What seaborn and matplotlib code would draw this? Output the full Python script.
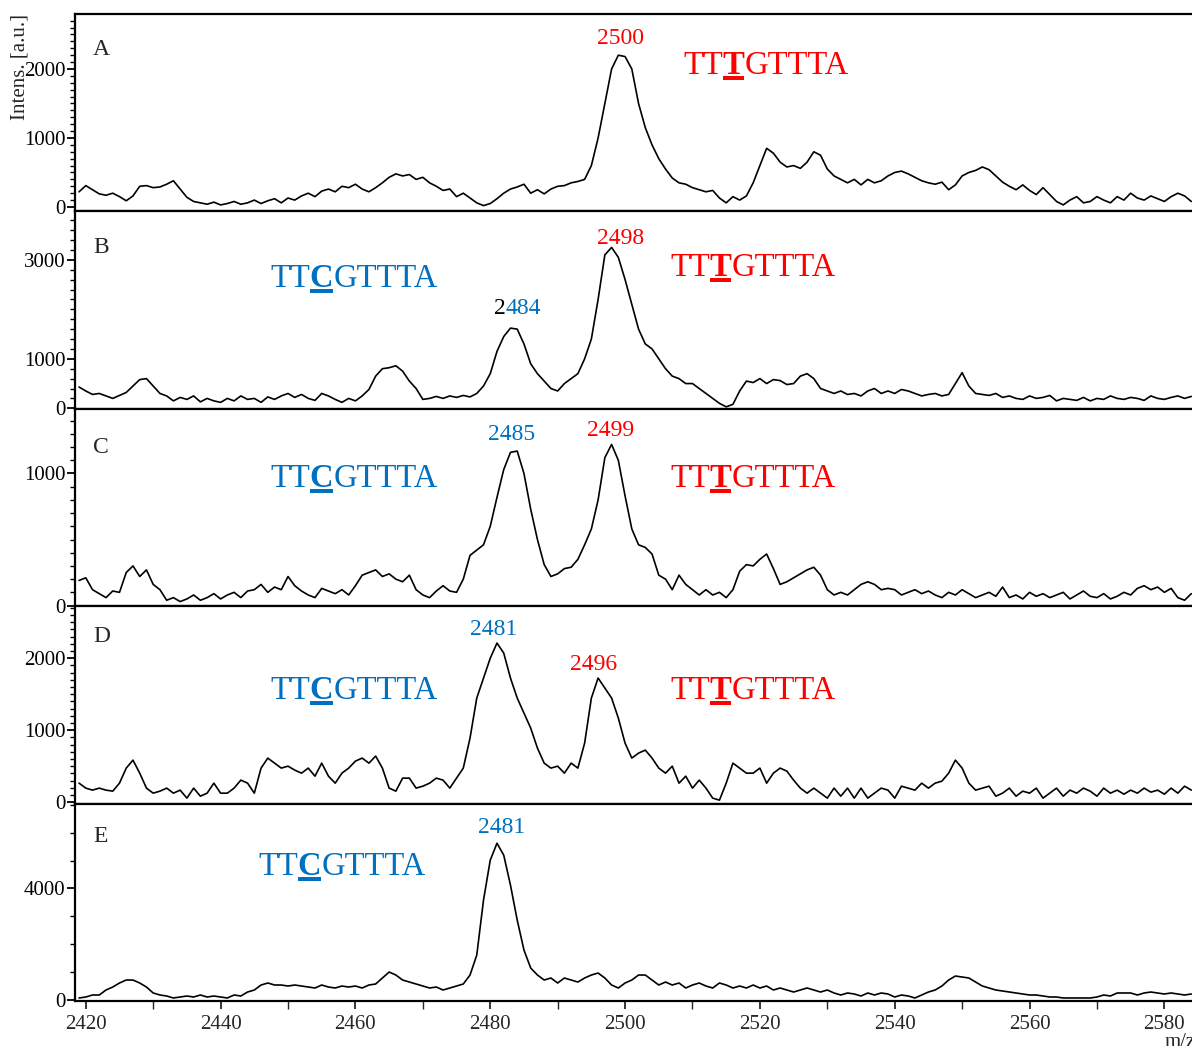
import numpy as np
import pandas as pd
import matplotlib
matplotlib.use("Agg")
import matplotlib.pyplot as plt
import seaborn as sns
from matplotlib.ticker import MultipleLocator, FixedLocator
from matplotlib.patches import Rectangle
from matplotlib.text import Annotation

# ---------------- data ----------------
mz = np.arange(2419, 2585)

int_A = [220, 310, 250, 190, 170, 200, 150, 90, 160, 300, 310, 280, 290, 330, 380, 260, 140, 80, 60, 40,
         70, 30, 50, 80, 40, 60, 100, 50, 90, 120, 60, 130, 100, 160, 200, 150, 230, 260, 220, 300,
         280, 330, 260, 220, 280, 350, 430, 480, 450, 470, 400, 430, 350, 300, 240, 260, 150, 200, 130, 60,
         20, 50, 120, 200, 260, 290, 330, 200, 250, 190, 260, 300, 310, 350, 370, 400, 600, 1000, 1500, 2000,
         2200, 2180, 2000, 1500, 1150, 900, 700, 550, 420, 350, 330, 280, 250, 220, 240, 130, 60, 150, 100, 160,
         350, 600, 850, 780, 650, 580, 600, 560, 650, 800, 750, 550, 450, 400, 350, 400, 320, 400, 350, 380,
         450, 500, 520, 480, 430, 380, 350, 330, 360, 250, 320, 450, 500, 530, 580, 540, 450, 360, 300, 250,
         320, 240, 180, 280, 180, 80, 30, 100, 150, 60, 80, 150, 100, 60, 150, 100, 200, 130, 100, 160,
         120, 80, 150, 200, 160, 80]

int_B = [430, 350, 280, 300, 250, 200, 260, 320, 450, 580, 600, 450, 300, 250, 150, 220, 180, 250, 130, 200,
         150, 120, 200, 150, 250, 180, 200, 120, 230, 180, 250, 300, 220, 280, 200, 160, 300, 250, 180, 120,
         200, 150, 250, 380, 650, 800, 820, 860, 750, 550, 400, 180, 200, 240, 200, 250, 220, 260, 230, 300,
         450, 700, 1150, 1450, 1620, 1600, 1300, 900, 700, 550, 400, 350, 500, 600, 700, 1000, 1400, 2200, 3100, 3250,
         3050, 2600, 2100, 1600, 1300, 1200, 1000, 800, 650, 600, 500, 500, 400, 300, 200, 100, 30, 80, 350, 550,
         520, 600, 500, 580, 560, 480, 500, 650, 700, 600, 400, 350, 300, 350, 280, 300, 250, 350, 400, 300,
         350, 300, 380, 350, 300, 250, 280, 300, 250, 280, 500, 720, 450, 300, 280, 260, 300, 220, 250, 200,
         180, 250, 200, 220, 260, 150, 200, 180, 160, 220, 150, 200, 180, 250, 200, 180, 220, 200, 160, 250,
         200, 180, 220, 250, 200, 240]

int_C = [190, 210, 120, 90, 60, 110, 100, 250, 300, 220, 270, 160, 120, 40, 60, 30, 50, 80, 40, 60,
         90, 50, 80, 100, 60, 110, 120, 160, 100, 140, 120, 220, 150, 110, 80, 60, 130, 110, 90, 120,
         80, 150, 230, 250, 270, 220, 240, 200, 180, 230, 120, 80, 60, 110, 150, 110, 100, 200, 380, 420,
         460, 600, 820, 1030, 1160, 1170, 1000, 730, 500, 310, 220, 240, 280, 290, 350, 460, 580, 800, 1120, 1220,
         1100, 830, 580, 460, 440, 390, 230, 200, 120, 230, 160, 120, 80, 120, 80, 100, 60, 120, 260, 310,
         300, 350, 390, 280, 160, 180, 210, 240, 270, 290, 230, 120, 80, 100, 80, 120, 160, 180, 160, 120,
         130, 120, 80, 100, 120, 90, 110, 80, 60, 100, 80, 120, 90, 60, 80, 100, 70, 140, 60, 80,
         50, 100, 70, 90, 60, 80, 100, 50, 80, 110, 70, 60, 90, 50, 70, 100, 80, 130, 150, 120,
         140, 100, 130, 60, 40, 90]

int_D = [264, 195, 167, 195, 167, 153, 264, 473, 584, 403, 195, 125, 153, 195, 125, 167, 56, 195, 83, 125,
         264, 125, 125, 195, 306, 264, 125, 473, 612, 542, 473, 500, 445, 403, 473, 361, 542, 361, 264, 403,
         473, 570, 612, 542, 640, 473, 195, 153, 334, 334, 195, 222, 264, 334, 306, 195, 334, 473, 890, 1446,
         1724, 2000, 2210, 2071, 1724, 1446, 1237, 1029, 751, 542, 473, 500, 403, 542, 473, 820, 1446, 1724, 1585, 1446,
         1168, 820, 612, 681, 723, 612, 473, 403, 500, 264, 361, 195, 306, 195, 56, 28, 264, 542, 473, 403,
         403, 473, 264, 403, 473, 431, 306, 195, 125, 195, 125, 56, 195, 83, 195, 56, 195, 56, 125, 195,
         167, 56, 222, 195, 167, 264, 195, 264, 292, 403, 584, 473, 264, 167, 195, 222, 83, 125, 195, 83,
         153, 125, 195, 56, 125, 195, 83, 167, 125, 195, 153, 83, 195, 125, 167, 111, 167, 125, 195, 139,
         167, 111, 195, 125, 222, 167]

int_E = [72, 107, 179, 179, 358, 465, 609, 716, 716, 609, 465, 251, 179, 143, 72, 107, 143, 107, 179, 107,
         143, 107, 72, 179, 143, 286, 358, 537, 609, 537, 537, 501, 537, 501, 465, 430, 537, 465, 430, 501,
         465, 501, 430, 537, 573, 788, 1002, 895, 716, 644, 573, 501, 430, 465, 358, 430, 501, 573, 895, 1611,
         3580, 5012, 5620, 5191, 4117, 2864, 1790, 1146, 895, 716, 788, 609, 788, 716, 644, 788, 895, 967, 788, 537,
         430, 609, 716, 895, 895, 716, 537, 644, 537, 609, 430, 537, 609, 501, 430, 609, 537, 430, 501, 430,
         537, 430, 501, 358, 430, 358, 286, 358, 430, 358, 286, 358, 251, 179, 251, 215, 143, 251, 179, 251,
         215, 107, 179, 143, 72, 179, 286, 358, 501, 716, 859, 823, 788, 644, 501, 430, 358, 322, 286, 251,
         215, 179, 179, 143, 107, 107, 72, 72, 72, 72, 72, 107, 179, 143, 251, 251, 251, 179, 251, 286,
         251, 215, 251, 215, 179, 215]

panels = ["A", "B", "C", "D", "E"]
series = {"A": int_A, "B": int_B, "C": int_C, "D": int_D, "E": int_E}
y_limits = {"A": (-64, 2797), "B": (-10, 3978), "C": (-5, 1490), "D": (-20, 2722), "E": (-36, 7040)}
y_major = {"A": [0, 1000, 2000], "B": [0, 1000, 3000], "C": [0, 1000], "D": [0, 1000, 2000], "E": [0, 4000]}
y_minor = {"A": 100, "B": 200, "C": 100, "D": 100, "E": 1000}
x_ticks = [2420, 2440, 2460, 2480, 2500, 2520, 2540, 2560, 2580]

RED = "#FF0000"
BLUE = "#0070C0"

# ---------------- figure ----------------
sns.set_style("ticks")
plt.rcParams["font.family"] = ["Liberation Serif", "DejaVu Serif"]

W, H = 1192, 1046
fig, axes = plt.subplots(5, 1, figsize=(W / 100, H / 100), dpi=100, sharex=True)
fig.subplots_adjust(left=75 / W, right=1.0, top=1 - 14 / H, bottom=1 - 1001 / H, hspace=0)

for ax, p in zip(axes, panels):
    df = pd.DataFrame({"mz": mz, "intens": series[p]})
    sns.lineplot(data=df, x="mz", y="intens", ax=ax, color="black", linewidth=1.2, legend=False)
    ax.set_xlim(2418.4, 2584.1)
    ax.set_ylim(*y_limits[p])
    ax.yaxis.set_major_locator(FixedLocator(y_major[p]))
    ax.yaxis.set_minor_locator(MultipleLocator(y_minor[p]))
    ax.set_ylabel("")
    ax.set_xlabel("")
    for s in ["top", "bottom", "left"]:
        ax.spines[s].set_linewidth(1.6)
        ax.spines[s].set_color("black")
    ax.spines["right"].set_visible(False)
    ax.tick_params(axis="y", which="major", direction="out", length=6, width=1.3,
                   labelsize=15, pad=1, colors="black")
    ax.tick_params(axis="y", which="minor", direction="out", length=3.5, width=1.0, colors="black")
    ax.grid(False)

for ax in axes[:-1]:
    ax.tick_params(axis="x", which="both", bottom=False, labelbottom=False)

axb = axes[-1]
axb.xaxis.set_major_locator(FixedLocator(x_ticks))
axb.xaxis.set_minor_locator(MultipleLocator(10))
axb.tick_params(axis="x", which="major", direction="out", length=6, width=1.3, labelsize=15, pad=4)
axb.tick_params(axis="x", which="minor", direction="out", length=6, width=1.0)


def fp(x, y):
    return (x / W, 1 - y / H)


def chain(prev, s, **kw):
    ann = Annotation(s, xy=(1, 0), xycoords=prev, ha="left", va="bottom", annotation_clip=False, **kw)
    fig.add_artist(ann)
    return ann


# axis labels
fig.text(*fp(20, 67), "Intens. [a.u.]", rotation=90, ha="center", va="center", fontsize=15)
fig.text(*fp(1165, 1033), "m/z", ha="left", va="top", fontsize=15)

# panel letters
for p, (x, y) in zip(panels, [(93, 55), (93, 253), (93, 453), (93, 642), (93, 842)]):
    fig.text(*fp(x, y), p, ha="left", va="baseline", fontsize=17)

# peak labels
peak_labels = [("2500", 621, 44, RED), ("2498", 621, 244, RED), ("2485", 512, 440, BLUE),
               ("2499", 611, 436, RED), ("2481", 494, 635, BLUE), ("2496", 594, 670, RED),
               ("2481", 502, 833, BLUE)]
for s, x, y, c in peak_labels:
    fig.text(*fp(x, y), s, ha="center", va="baseline", fontsize=17, color=c)

# "2484" with a black first digit
t2 = fig.text(*fp(494, 314), "2", ha="left", va="baseline", fontsize=17, color="black")
chain(t2, "484", fontsize=17, color=BLUE)

# sequences
SEQ_FS = 23.5
bold_parts = []


def seq(x, y, pre, bold, post, color):
    t1 = fig.text(*fp(x, y), pre, ha="left", va="baseline", fontsize=SEQ_FS, color=color)
    tb = chain(t1, bold, fontsize=SEQ_FS, fontweight="bold", color=color)
    chain(tb, post, fontsize=SEQ_FS, color=color)
    bold_parts.append((tb, y, color))


seq(683, 74, "TT", "T", "GTTTA", RED)
seq(270, 287, "TT", "C", "GTTTA", BLUE)
seq(670, 276, "TT", "T", "GTTTA", RED)
seq(270, 487, "TT", "C", "GTTTA", BLUE)
seq(670, 487, "TT", "T", "GTTTA", RED)
seq(270, 699, "TT", "C", "GTTTA", BLUE)
seq(670, 699, "TT", "T", "GTTTA", RED)
seq(258, 875, "TT", "C", "GTTTA", BLUE)

fig.canvas.draw()
renderer = fig.canvas.get_renderer()
for tb, y, color in bold_parts:
    bb = tb.get_window_extent(renderer)
    x0 = bb.x0 + 0.5
    w = bb.width - 1.0
    ytop = y + 2
    rect = Rectangle((x0 / W, 1 - (ytop + 4) / H), w / W, 4 / H, transform=fig.transFigure,
                     facecolor=color, edgecolor="none")
    fig.add_artist(rect)

fig.savefig("out.png", dpi=100)
